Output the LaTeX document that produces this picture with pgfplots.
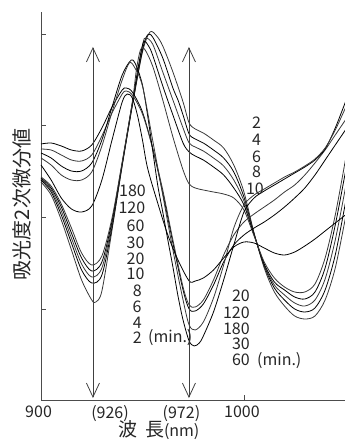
\documentclass[border=0pt]{standalone}
\usepackage{fontspec}
\setmainfont{Noto Sans CJK JP}
\usepackage{pgfplots}
\pgfplotsset{compat=1.18}
\usetikzlibrary{arrows.meta}
\begin{document}
\begin{tikzpicture}[x=1pt,y=1pt]
\useasboundingbox (0,0) rectangle (345,442);
\begin{axis}[
  at={(41pt,42pt)}, anchor=south west,
  scale only axis, width=304pt, height=388pt,
  xmin=900, xmax=1049.8, ymin=0, ymax=388,
  axis lines*=left,
  axis line style={black!70, line width=0.9pt},
  xtick={1000}, xticklabels={},
  ytick={91,183,275,366}, yticklabels={},
  tick align=inside, major tick length=5pt,
  tick style={black!70, line width=0.8pt},
  clip=false,
  cycle list={{black!78, solid}},
  every axis plot/.append style={line width=0.8pt, smooth, no marks},
]
% ---- early group (2,4,6,8,10 min) ----
\addplot table[x=n, y expr=400-\thisrow{p}, row sep=\\]{n p\\
900 182\\ 905 195\\ 910 220\\ 915 250\\ 920 280\\ 925 300\\ 927 302\\ 930 291\\ 935 230\\ 940 166\\ 945 106\\ 950 52\\ 953.7 32\\ 957 36\\ 960 46\\ 965 72\\ 970 102\\ 973 123\\ 976 129\\ 980 133\\ 985 140\\ 990 148\\ 995 165\\ 1000 192\\ 1005 233\\ 1010 268\\ 1015 292\\ 1020 306\\ 1025 316\\ 1030 319\\ 1035 316\\ 1040 300\\ 1045 268\\ 1050 218\\};
\addplot table[x=n, y expr=400-\thisrow{p}, row sep=\\]{n p\\
900 180\\ 905 192\\ 910 215\\ 915 243\\ 920 270\\ 925 283\\ 930 275\\ 935 227\\ 940 165\\ 945 105\\ 950 50\\ 952.5 35\\ 955 37\\ 960 58\\ 965 88\\ 967.5 100\\ 970 115\\ 973 134\\ 976 139\\ 980 143\\ 985 150\\ 990 158\\ 995 172\\ 1000 197\\ 1005 234\\ 1010 266\\ 1015 288\\ 1020 300\\ 1025 309\\ 1030 312\\ 1035 308\\ 1040 290\\ 1045 255\\ 1050 203\\};
\addplot table[x=n, y expr=400-\thisrow{p}, row sep=\\]{n p\\
900 179\\ 905 190\\ 910 211\\ 915 238\\ 920 264\\ 925 277\\ 930 268\\ 935 224\\ 940 164\\ 945 104\\ 950 46\\ 951.5 38\\ 955 44\\ 960 72\\ 965 100\\ 970 128\\ 973 143\\ 976 147\\ 980 151\\ 985 158\\ 990 166\\ 995 180\\ 1000 201\\ 1005 234\\ 1010 265\\ 1015 285\\ 1020 295\\ 1025 303\\ 1030 306\\ 1035 300\\ 1040 279\\ 1045 240\\ 1050 188\\};
\addplot table[x=n, y expr=400-\thisrow{p}, row sep=\\]{n p\\
900 178\\ 905 188\\ 910 207\\ 915 233\\ 920 258\\ 925 271\\ 930 262\\ 935 221\\ 940 163\\ 945 103\\ 948 66\\ 950.5 42\\ 953 46\\ 955 55\\ 960 86\\ 965 115\\ 970 143\\ 973 152\\ 976 156\\ 980 160\\ 985 167\\ 990 175\\ 995 188\\ 1000 205\\ 1005 235\\ 1010 264\\ 1015 282\\ 1020 290\\ 1025 297\\ 1030 299\\ 1035 292\\ 1040 268\\ 1045 225\\ 1050 172\\};
\addplot table[x=n, y expr=400-\thisrow{p}, row sep=\\]{n p\\
900 177\\ 905 186\\ 910 204\\ 915 228\\ 920 253\\ 925 265\\ 930 256\\ 935 218\\ 940 162\\ 945 102\\ 947 70\\ 949 50\\ 951 49\\ 955 66\\ 960 100\\ 965 137\\ 970 170\\ 973 184\\ 976 188\\ 980 190\\ 985 192\\ 990 194\\ 995 198\\ 1000 210\\ 1005 236\\ 1010 262\\ 1015 278\\ 1020 287\\ 1025 292\\ 1030 292\\ 1035 284\\ 1040 258\\ 1045 215\\ 1050 160\\};
% ---- late group (20,30,60,120,180 min) ----
\addplot table[x=n, y expr=400-\thisrow{p}, row sep=\\]{n p\\
900 144\\ 905 143\\ 910 146\\ 915 150\\ 920 151\\ 925 145\\ 930 128\\ 935 107\\ 940 90\\ 942 88\\ 945 92\\ 950 112\\ 955 148\\ 960 193\\ 965 243\\ 970 290\\ 973 309\\ 976 311\\ 980 304\\ 985 285\\ 990 262\\ 995 245\\ 1000 235\\ 1005 228\\ 1010 222\\ 1015 215\\ 1020 207\\ 1025 198\\ 1030 188\\ 1035 175\\ 1040 160\\ 1045 145\\ 1050 130\\};
\addplot table[x=n, y expr=400-\thisrow{p}, row sep=\\]{n p\\
900 149\\ 905 150\\ 910 155\\ 915 160\\ 920 161\\ 925 155\\ 930 136\\ 935 113\\ 940 94\\ 942 91\\ 945 95\\ 950 114\\ 955 148\\ 960 190\\ 965 240\\ 970 287\\ 973 305\\ 976 307\\ 980 300\\ 985 280\\ 990 255\\ 995 235\\ 1000 222\\ 1005 214\\ 1010 207\\ 1015 200\\ 1020 192\\ 1025 185\\ 1030 175\\ 1035 163\\ 1040 150\\ 1045 135\\ 1050 120\\};
\addplot table[x=n, y expr=400-\thisrow{p}, row sep=\\]{n p\\
900 153\\ 905 158\\ 910 166\\ 915 171\\ 920 171\\ 925 163\\ 930 140\\ 935 107\\ 940 75\\ 944.5 60\\ 947 66\\ 950 85\\ 952.5 115\\ 955 150\\ 957.5 185\\ 960 212\\ 962.5 240\\ 965 267\\ 967.5 296\\ 970 320\\ 973 341\\ 975.5 346\\ 978 343\\ 980 336\\ 985 312\\ 990 280\\ 995 245\\ 1000 212\\ 1005 198\\ 1010 191\\ 1015 185\\ 1020 179\\ 1025 173\\ 1030 167\\ 1035 160\\ 1040 149\\ 1045 128\\ 1050 102\\};
\addplot table[x=n, y expr=400-\thisrow{p}, row sep=\\]{n p\\
900 158\\ 905 165\\ 910 175\\ 915 180\\ 920 180\\ 925 172\\ 930 146\\ 935 112\\ 940 80\\ 943.5 63\\ 946 67\\ 950 86\\ 955 140\\ 960 195\\ 965 250\\ 970 300\\ 973 325\\ 976 330\\ 980 322\\ 985 298\\ 990 265\\ 995 228\\ 1000 205\\ 1005 195\\ 1010 189\\ 1015 183\\ 1020 177\\ 1025 172\\ 1030 166\\ 1035 159\\ 1040 148\\ 1045 130\\ 1050 108\\};
\addplot table[x=n, y expr=400-\thisrow{p}, row sep=\\]{n p\\
900 165\\ 905 180\\ 910 198\\ 915 209\\ 920 212\\ 925 206\\ 930 180\\ 935 140\\ 940 102\\ 942.5 94\\ 945 98\\ 947.5 115\\ 950 140\\ 952.5 168\\ 957.5 203\\ 962.5 235\\ 967.5 260\\ 973 281\\ 976 281\\ 980 278\\ 985 270\\ 990 258\\ 995 247\\ 1000 242\\ 1005 243\\ 1010 248\\ 1015 253\\ 1020 255\\ 1025 252\\ 1030 246\\ 1035 239\\ 1040 231\\ 1045 223\\ 1050 215\\};
% ---- arrows ----
\draw[black!75, line width=0.8pt, {Straight Barb[length=14pt,width=13pt]}-{Straight Barb[length=14pt,width=13pt]}] (axis cs:925.6,2) -- (axis cs:925.6,353);
\draw[black!75, line width=0.8pt, {Straight Barb[length=14pt,width=13pt]}-{Straight Barb[length=14pt,width=13pt]}] (axis cs:972.9,2) -- (axis cs:972.9,353);
% ---- labels ----
\begin{scope}[every node/.style={font=\fontsize{16}{16}\selectfont, text=black!85, inner sep=0pt}]
\node at (axis cs:945.1,209) {180};
\node at (axis cs:944.8,192.5) {120};
\node at (axis cs:946.6,174) {60};
\node at (axis cs:946.6,157.5) {30};
\node at (axis cs:946.6,141) {20};
\node at (axis cs:946.6,126) {10};
\node at (axis cs:947.5,109) {8};
\node at (axis cs:947.3,93.5) {6};
\node at (axis cs:947.5,77.5) {4};
\node at (axis cs:947.5,62.5) {2};
\node[anchor=base west] at (axis cs:952.7,57) {(min.)};
\node at (axis cs:1006.2,277) {2};
\node at (axis cs:1006.2,260) {4};
\node at (axis cs:1006.2,243) {6};
\node at (axis cs:1006.2,228) {8};
\node at (axis cs:1005.4,211) {10};
\node at (axis cs:998.5,104) {20};
\node at (axis cs:996.3,87.5) {120};
\node at (axis cs:996.3,71.5) {180};
\node at (axis cs:998.5,56) {30};
\node at (axis cs:998.5,40) {60};
\node[anchor=base west] at (axis cs:1006.4,34.5) {(min.)};
\node at (axis cs:898.8,-11.5) {900};
\node[anchor=base] at (axis cs:934.0,-18) {(926)};
\node[anchor=base] at (axis cs:969.2,-18) {(972)};
\node at (axis cs:999.0,-11.5) {1000};
\end{scope}
\node[font=\fontsize{19}{19}\selectfont, text=black!85, inner sep=0pt] at (axis cs:958.1,-30) {波\hspace{0.4em}長\fontsize{16}{16}\selectfont(nm)};
\node[font=\fontsize{20}{20}\selectfont, text=black!85, inner sep=0pt, rotate=90] at (axis cs:890.6,195.5) {吸光度2次微分値};
\end{axis}
\end{tikzpicture}
\end{document}
